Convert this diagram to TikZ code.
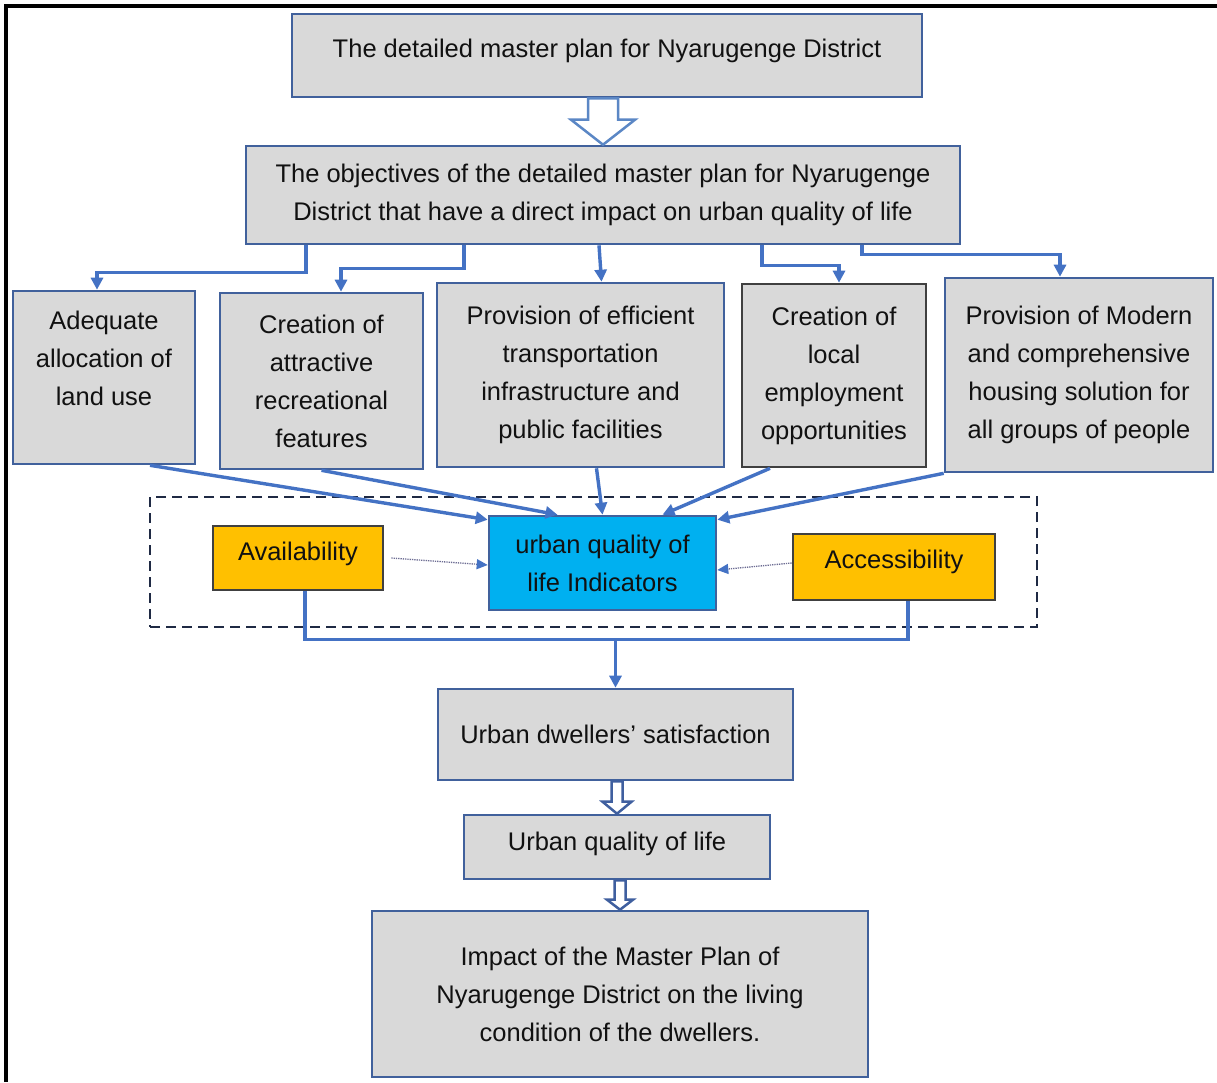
\documentclass[tikz,border=0pt]{standalone}
\usepackage{fontspec}
\setmainfont{Liberation Sans}
\usetikzlibrary{arrows.meta,calc}
\definecolor{gfill}{HTML}{D9D9D9}
\definecolor{bbd}{HTML}{41619C}
\definecolor{connc}{HTML}{4472C4}
\definecolor{dgray}{HTML}{404040}
\definecolor{gold}{HTML}{FFC000}
\definecolor{cyanb}{HTML}{00B0F0}
\definecolor{navy}{HTML}{1F2A44}
\definecolor{harrow}{HTML}{5B87C5}
\definecolor{harrowd}{HTML}{3F5F9F}
\definecolor{txt}{HTML}{111111}
\newcommand\bfs{\fontsize{25.5}{38}\selectfont}
\newcommand\hollowarr[6]{%
 \draw[#1] let \p1=(#2.south), \p2=(#3.north) in
 (\x2-#4,\y1) -- (\x2-#4,\y2+#6) -- (\x2-#5,\y2+#6) -- (\x2,\y2) -- (\x2+#5,\y2+#6) -- (\x2+#4,\y2+#6) -- (\x2+#4,\y1) -- cycle;}
\begin{document}
\begin{tikzpicture}[x=1pt,y=-1pt,
  box/.style={draw=bbd, fill=gfill, line width=2.6pt, align=center, inner sep=0pt, font=\bfs, text=txt},
  dkbox/.style={box, draw=dgray},
  ybox/.style={box, fill=gold, draw=dgray},
  cbox/.style={box, fill=cyanb, draw=bbd},
  grpbox/.style={draw=navy, line width=2.6pt, dash pattern=on 10pt off 6pt, inner sep=0pt},
  conn/.style={draw=connc, line width=3.4pt, -{Triangle[length=12pt,width=12pt]}},
  connl/.style={draw=connc, line width=3.4pt},
  dotarr/.style={draw=gray!85!blue, line width=1.3pt, densely dotted, -{Triangle[length=11pt,width=10pt,color=connc]}},
  hollow/.style={draw=harrow, fill=white, line width=2.5pt, line join=miter},
  hollowd/.style={draw=harrowd, fill=white, line width=2.5pt, line join=miter}
]
\useasboundingbox (0,0) rectangle (1217,1082);
\fill[white] (0,0) rectangle (1217,1082);
\draw[line width=3.5pt, black] (6,1082) -- (6,6) -- (1217,6);

\node[box, minimum width=630pt, minimum height=83pt] (top) at (607,55.5)
  {\raisebox{5pt}[\height][\depth]{The detailed master plan for Nyarugenge District}};
\node[box, minimum width=714pt, minimum height=98pt] (obj) at (603,195)
  {The objectives of the detailed master plan for Nyarugenge\\District that have a direct impact on urban quality of life};

\node[box, minimum width=182pt, minimum height=173pt] (A) at (104,377.5)
  {Adequate\\allocation of\\land use\\\mbox{}};
\node[box, minimum width=203pt, minimum height=176pt] (B) at (321.5,381)
  {Creation of\\attractive\\recreational\\features};
\node[box, minimum width=287pt, minimum height=184pt] (C) at (580.5,375)
  {Provision of efficient\\transportation\\infrastructure and\\public facilities};
\node[dkbox, minimum width=184pt, minimum height=183pt] (D) at (834,375.5)
  {Creation of\\local\\employment\\opportunities};
\node[box, minimum width=268pt, minimum height=194pt] (E) at (1079,375)
  {Provision of Modern\\and comprehensive\\housing solution for\\all groups of people};

\node[grpbox, minimum width=887pt, minimum height=130pt] (grp) at (593.5,562) {};
\node[ybox, minimum width=170pt, minimum height=64pt] (av) at (298,558)
  {\raisebox{4pt}[\height][\depth]{Availability}};
\node[cbox, minimum width=227pt, minimum height=94pt] (ind) at (602.5,563)
  {urban quality of\\life Indicators};
\node[ybox, minimum width=202pt, minimum height=66pt] (acc) at (894,567)
  {\raisebox{5pt}[\height][\depth]{Accessibility}};

\node[box, minimum width=355pt, minimum height=91pt] (sat) at (615.5,734.5)
  {Urban dwellers’ satisfaction};
\node[box, minimum width=306pt, minimum height=64pt] (uq) at (617,847)
  {\raisebox{3pt}[\height][\depth]{Urban quality of life}};
\node[box, minimum width=496pt, minimum height=166pt] (imp) at (620,994)
  {Impact of the Master Plan of\\Nyarugenge District on the living\\condition of the dwellers.};

% hollow arrows
\hollowarr{hollow}{top}{obj}{15pt}{32pt}{25pt}
\hollowarr{hollowd}{sat}{uq}{5.5pt}{14.5pt}{12pt}
\hollowarr{hollowd}{uq}{imp}{5.5pt}{13pt}{10pt}

% objective -> five boxes
\draw[conn] ([xshift=-297pt]obj.south) -- ++(0,27) -| ([xshift=-7pt]A.north);
\draw[conn] ([xshift=-139pt]obj.south) -- ++(0,23) -| ([xshift=19.5pt]B.north);
\draw[conn] ([xshift=-4pt]obj.south) -- ([xshift=21pt]C.north);
\draw[conn] ([xshift=159pt]obj.south) -- ++(0,20) -| ([xshift=5pt]D.north);
\draw[conn] ([xshift=259pt]obj.south) -- ++(0,9) -| ([xshift=-19pt]E.north);

% five boxes -> indicators
\draw[conn] ([xshift=46pt]A.south) -- ([yshift=-5pt]ind.north west);
\draw[conn] (B.south) -- ([xshift=-45pt]ind.north);
\draw[conn] ([xshift=16pt]C.south) -- (ind.north);
\draw[conn] ([xshift=-64pt]D.south) -- ([xshift=60pt]ind.north);
\draw[conn] (E.south west) -- ([yshift=-5pt]ind.north east);

% dotted arrows
\draw[dotarr] ([xshift=7pt]av.east) -- ([yshift=-2pt]ind.west);
\draw[dotarr] ([yshift=4pt]acc.west) -- ([yshift=-7pt]ind.east);

% merge to satisfaction
\coordinate (mj) at ($(av.south)+(7,48)$);
\draw[connl] ([xshift=7pt]av.south) -- (mj) -| ([xshift=14pt]acc.south);
\draw[conn] (sat.north |- mj) -- (sat.north);
\end{tikzpicture}
\end{document}
